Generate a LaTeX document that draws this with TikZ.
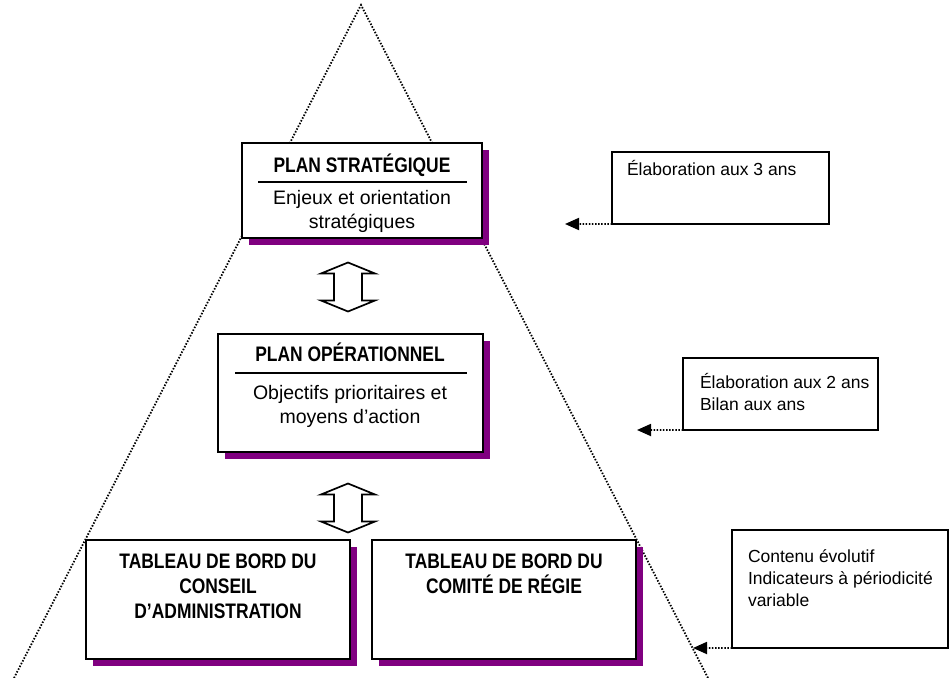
\documentclass[tikz,border=0pt]{standalone}
\usepackage{fontspec}
\setmainfont{Liberation Sans}
\newfontfamily\narrowbf{Liberation Sans}[UprightFont={* Bold},FakeStretch=0.83]
\usepackage{tikz}
\usetikzlibrary{arrows.meta,shadows}
\definecolor{shadowpurple}{RGB}{128,0,128}

\tikzset{
  twoway/.pic={
    \draw[line width=1.7bp,fill=white] (0,-24.5) -- (27,-13.5) -- (14,-13.5) -- (14,13.5) -- (27,13.5)
      -- (0,24.5) -- (-27,13.5) -- (-14,13.5) -- (-14,-13.5) -- (-27,-13.5) -- cycle;
  }
}

\begin{document}
\begin{tikzpicture}[x=1bp,y=-1bp,inner sep=0pt,outer sep=0pt,
  box/.style={draw,line width=1.7bp,fill=white,anchor=north west,
    drop shadow={shadow xshift=7bp,shadow yshift=-7bp,fill=shadowpurple,opacity=1}},
  notebox/.style={draw,line width=1.7bp,fill=white,anchor=north west},
  guide/.style={line width=1.8bp,dash pattern=on 1.5bp off 1.6bp},
  pointer/.style={guide,-{Triangle[length=14bp,width=12bp]}},
  title/.style={font=\narrowbf\fontsize{21bp}{25bp}\selectfont,align=center},
  body/.style={font=\fontsize{19.5bp}{24bp}\selectfont,align=center},
  note/.style={font=\fontsize{17.5bp}{22bp}\selectfont,align=left}]
  \useasboundingbox (0,0) rectangle (950,678);
  % pyramid
  \coordinate (apex) at (361,5);
  \coordinate (baseleft) at (14,678);
  \coordinate (baseright) at (708,678);
  \draw[guide] (baseleft) -- (apex) -- (baseright);
  % plan strategique
  \node[box,minimum width=240bp,minimum height=95bp] (strat) at (242,143) {};
  \node[title,anchor=base] (strattitle) at (362,173) {PLAN STRATÉGIQUE};
  \draw[line width=1.3bp] (258,182) -- (467,182);
  \node[body,anchor=north] (stratbody) at (362,190) {Enjeux et orientation\\stratégiques};
  % plan operationnel
  \node[box,minimum width=265bp,minimum height=118bp] (oper) at (218,334) {};
  \node[title,anchor=base] (opertitle) at (350,361) {PLAN OPÉRATIONNEL};
  \draw[line width=1.3bp] (235,373) -- (467,373);
  \node[body,anchor=north] (operbody) at (350,385) {Objectifs prioritaires et\\moyens d’action};
  % tableaux de bord
  \node[box,minimum width=264bp,minimum height=119bp] (conseil) at (86,540) {};
  \node[title,anchor=north] (conseiltext) at (218,554) {TABLEAU DE BORD DU\\CONSEIL\\D’ADMINISTRATION};
  \node[box,minimum width=264bp,minimum height=119bp] (regie) at (372,540) {};
  \node[title,anchor=north] (regietext) at (504,554) {TABLEAU DE BORD DU\\COMITÉ DE RÉGIE};
  % double arrows
  \pic (link1) at (348,287) {twoway};
  \pic (link2) at (348,508) {twoway};
  % notes
  \node[notebox,minimum width=217bp,minimum height=72bp] (note1) at (612,152) {};
  \node[note,anchor=base west] (note1text) at (627,176) {Élaboration aux 3 ans};
  \node[notebox,minimum width=195bp,minimum height=72bp] (note2) at (683,358) {};
  \node[note,anchor=north west] (note2text) at (700,373) {Élaboration aux 2 ans\\Bilan aux ans};
  \node[notebox,minimum width=216bp,minimum height=118bp] (note3) at (732,530) {};
  \node[note,anchor=north west] (note3text) at (748,550) {Contenu évolutif\\Indicateurs à périodicité\\variable};
  \coordinate (tip1) at (565,224);
  \coordinate (tip2) at (637,430);
  \coordinate (tip3) at (693,648);
  \draw[pointer] (note1.south west) -- (tip1);
  \draw[pointer] (note2.south west) -- (tip2);
  \draw[pointer] (note3.south west) -- (tip3);
\end{tikzpicture}
\end{document}
